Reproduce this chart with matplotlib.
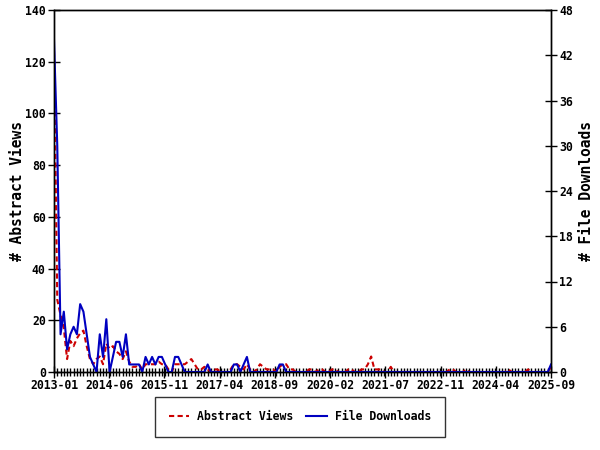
import numpy as np
import pandas as pd
import matplotlib
matplotlib.use("Agg")
import matplotlib.pyplot as plt

# monthly counts, 2013-01 .. 2025-09
abstract_views = [
    124, 28, 22, 17, 5, 12, 10, 13, 15, 16, 10, 5, 3, 5, 6, 3, 11, 9, 10, 8,
    7, 5, 8, 4, 2, 2, 3, 1, 3, 3, 3, 3, 4, 3, 3, 1, 0, 3, 3, 3,
    3, 4, 5, 3, 1, 1, 2, 1, 0, 1, 1, 0, 0, 0, 1, 3, 3, 2, 1, 3,
    1, 0, 1, 3, 2, 1, 1, 1, 0, 2, 3, 3, 1, 1, 0, 0, 0, 0, 1, 1,
    0, 1, 1, 0, 0, 1, 1, 0, 0, 0, 1, 1, 0, 0, 1, 1, 3, 6, 1, 1,
    1, 0, 0, 2, 0, 0, 0, 0, 0, 0, 0, 0, 0, 0, 0, 0, 0, 0, 0, 0,
    0, 1, 1, 0, 0, 0, 1, 0, 0, 0, 0, 0, 0, 0, 0, 0, 0, 0, 0, 1,
    0, 0, 0, 0, 0, 1, 0, 0, 0, 0, 0, 0, 2,
]
file_downloads = [
    44, 30, 5, 8, 3, 5, 6, 5, 9, 8, 5, 2, 1, 0, 5, 2, 7, 0, 2, 4,
    4, 2, 5, 1, 1, 1, 1, 0, 2, 1, 2, 1, 2, 2, 1, 0, 0, 2, 2, 1,
    0, 0, 0, 0, 0, 0, 0, 1, 0, 0, 0, 0, 0, 0, 0, 1, 1, 0, 1, 2,
    0, 0, 0, 0, 0, 0, 0, 0, 0, 1, 1, 0, 0, 0, 0, 0, 0, 0, 0, 0,
    0, 0, 0, 0, 0, 0, 0, 0, 0, 0, 0, 0, 0, 0, 0, 0, 0, 0, 0, 0,
    0, 0, 0, 0, 0, 0, 0, 0, 0, 0, 0, 0, 0, 0, 0, 0, 0, 0, 0, 0,
    0, 0, 0, 0, 0, 0, 0, 0, 0, 0, 0, 0, 0, 0, 0, 0, 0, 0, 0, 0,
    0, 0, 0, 0, 0, 0, 0, 0, 0, 0, 0, 0, 1,
]
x_labels = ["2013-01", "2014-06", "2015-11", "2017-04", "2018-09",
            "2020-02", "2021-07", "2022-11", "2024-04", "2025-09"]
left_ticks = [0, 20, 40, 60, 80, 100, 120, 140]
right_ticks = [0, 6, 12, 18, 24, 30, 36, 42, 48]

months = np.arange(len(abstract_views))
n_last = months[-1]

plt.rcParams['font.family'] = 'DejaVu Sans Mono'
plt.rcParams['font.weight'] = 'bold'
FS = 8.3

RED = '#cc0000'
BLUE = '#0000c0'

fig = plt.figure(figsize=(6, 4.5), dpi=100)
ax = fig.add_axes([54/600, 1 - 372/450, (551 - 54)/600, (372 - 10)/450])
ax2 = ax.twinx()

l1, = ax.plot(months, abstract_views, color=RED, lw=1.5, ls=(0, (2.5, 1.6)),
              label='Abstract Views', zorder=3)
l2, = ax2.plot(months, file_downloads, color=BLUE, lw=1.5, label='File Downloads',
               zorder=2)

ax.set_xlim(0, n_last)
ax.set_ylim(0, 140)
ax2.set_ylim(0, 48)

major_pos = np.linspace(0, n_last, len(x_labels))
ax.set_xticks(major_pos)
ax.set_xticklabels(x_labels, fontsize=FS, fontweight='bold')
ax.set_xticks(months, minor=True)
ax.tick_params(axis='x', which='major', direction='inout', length=8, width=1, pad=1)
ax.tick_params(axis='x', which='minor', direction='inout', length=6, width=1)

ax.set_yticks(left_ticks)
ax.set_yticklabels([str(v) for v in left_ticks], fontsize=FS, fontweight='bold')
ax.tick_params(axis='y', direction='inout', length=8, width=1, pad=2)
ax2.set_yticks(right_ticks)
ax2.set_yticklabels([str(v) for v in right_ticks], fontsize=FS, fontweight='bold')
ax2.tick_params(axis='y', direction='inout', length=8, width=1, pad=2)

ax.set_ylabel('# Abstract Views', fontsize=10.5, fontweight='bold', labelpad=0)
ax2.set_ylabel('# File Downloads', fontsize=10.5, fontweight='bold', labelpad=4.5)

for a in (ax, ax2):
    for s in a.spines.values():
        s.set_linewidth(1)

leg = fig.legend(handles=[l1, l2], loc='center', bbox_to_anchor=(0.5, 1 - 417/450),
                 ncol=2, frameon=True, fancybox=False,
                 edgecolor='black', handlelength=1.8, columnspacing=1.1,
                 borderpad=1.2, handletextpad=0.7, prop={'weight': 'bold', 'size': FS})
leg.get_frame().set_linewidth(1)

fig.savefig('out.png', dpi=100)
